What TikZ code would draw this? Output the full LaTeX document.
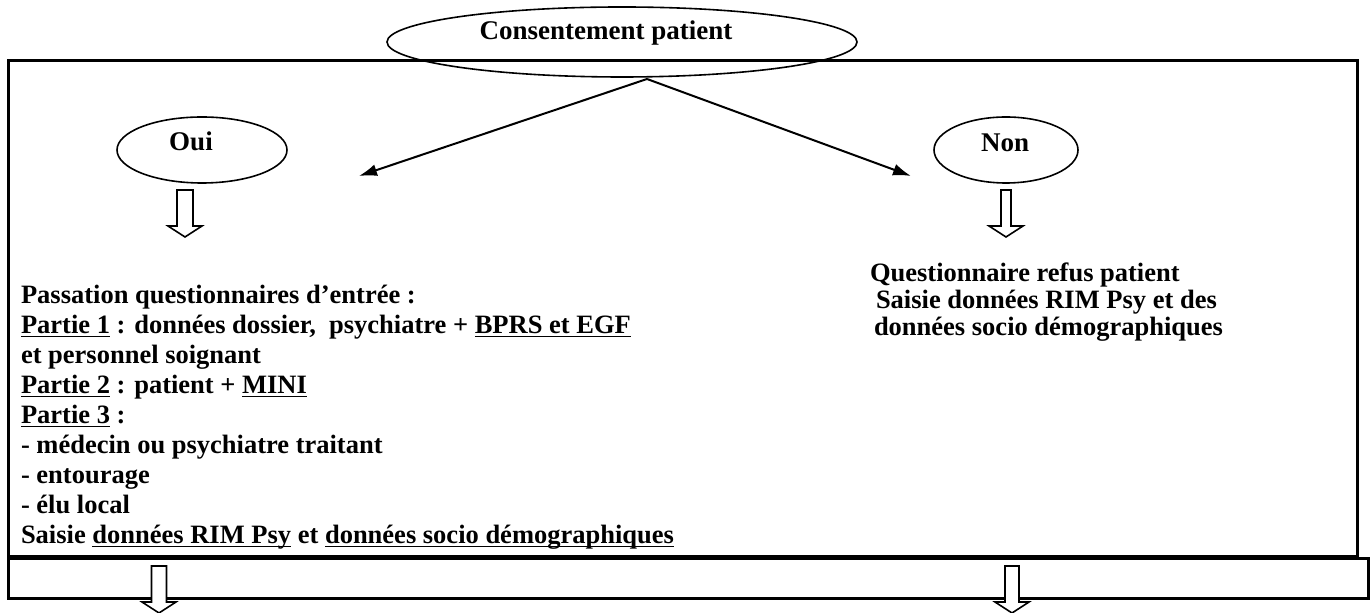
\documentclass[tikz,border=0pt]{standalone}
\usepackage{fontspec}
\setmainfont{Liberation Serif}
\usetikzlibrary{shapes.geometric,arrows.meta}
\newcommand\ulx[1]{\underline{\smash{#1}}}
\newcommand\hollowdown[4]{%
  \draw[hollow] (#2-#4,#3) -- (#2-#4,#3+36) -- (#2-17,#3+36) -- (#2,#3+47)
    -- (#2+17,#3+36) -- (#2+#4,#3+36) -- (#2+#4,#3) -- cycle
    coordinate (#1) at (#2,#3);}
\begin{document}
\begin{tikzpicture}[x=0.5pt,y=-0.5pt,
  every node/.style={inner sep=0pt, outer sep=0pt},
  oval/.style={draw, ellipse, line width=0.8pt},
  body/.style={anchor=base west, font=\fontsize{13.25}{15}\selectfont\bfseries},
  big/.style={anchor=base, font=\fontsize{13.5}{16}\selectfont\bfseries},
  frame/.style={draw, line width=1.5pt},
  conn/.style={line width=1pt, -{Latex[length=9pt,width=6pt]}},
  hollow/.style={draw, line width=0.8pt, fill=white, line join=miter}
]
\useasboundingbox (0,0) rectangle (1370,613);

% frames
\draw[frame] (8,61) rectangle (1357,557);
\draw[frame] (8,559) rectangle (1368,599);

% ellipses
\node[oval, minimum width=235pt, minimum height=35pt] (cons) at (622,42) {};
\node[big] (constext) at (606,40) {Consentement patient};
\node[oval, minimum width=85pt, minimum height=33pt] (oui) at (202,150) {};
\node[big] (ouitext) at (191,151) {Oui};
\node[oval, minimum width=72pt, minimum height=33pt] (non) at (1006,150) {};
\node[big] (nontext) at (1005,152) {Non};

% connectors
\coordinate (apex) at (647,79);
\coordinate (tipL) at (359,176);
\coordinate (tipR) at (911,176);
\draw[conn] (apex) -- (tipL);
\draw[conn] (apex) -- (tipR);

% hollow arrows
\hollowdown{hOui}{185}{190}{8}
\hollowdown{hNon}{1006}{190}{5}
\hollowdown{hBotL}{159}{566}{7.5}
\hollowdown{hBotR}{1012}{566}{7}

% left text
\node[body] (l1) at (21,304) {Passation questionnaires d’entrée :};
\node[body] (l2) at (21,334) {\ulx{Partie 1} : données dossier,\ \ psychiatre + \ulx{BPRS et EGF}};
\node[body] (l3) at (21,364) {et personnel soignant};
\node[body] (l4) at (21,394) {\ulx{Partie 2} : patient + \ulx{MINI}};
\node[body] (l5) at (21,424) {\ulx{Partie 3} :};
\node[body] (l6) at (21,454) {- médecin ou psychiatre traitant};
\node[body] (l7) at (21,484) {- entourage};
\node[body] (l8) at (21,514) {- élu local};
\node[body] (l9) at (21,544) {Saisie \ulx{données RIM Psy} et \ulx{données socio démographiques}};

% right text
\node[body] (r1) at (870,282) {Questionnaire refus patient};
\node[body] (r2) at (876,309) {Saisie données RIM Psy et des};
\node[body] (r3) at (874,336) {données socio démographiques};
\end{tikzpicture}
\end{document}
